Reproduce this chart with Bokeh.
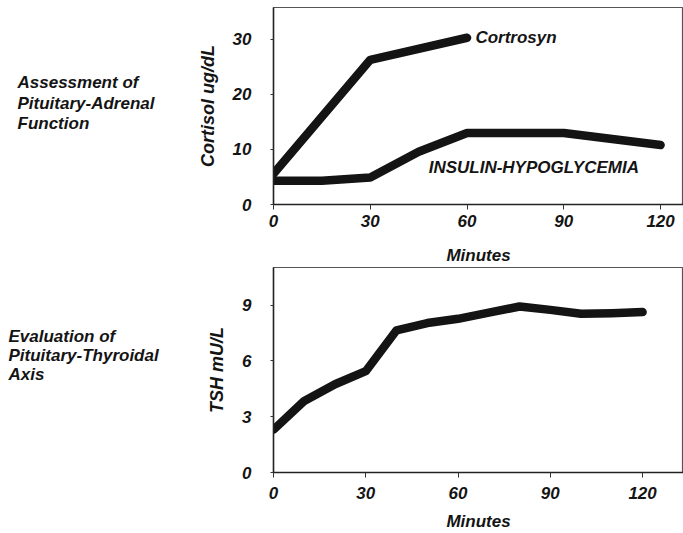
from bokeh.plotting import figure
from bokeh.layouts import column, row
from bokeh.models import Label, FixedTicker, Range1d
from bokeh.embed import file_html
from bokeh.resources import INLINE

# ---- data ----
cort_x = [0, 30, 60]
cort_y = [5.6, 26.3, 30.3]
ins_x = [0, 15, 30, 45, 60, 90, 120]
ins_y = [4.3, 4.3, 4.9, 9.6, 13.0, 13.0, 10.8]
tsh_x = [0, 10, 20, 30, 40, 50, 60, 70, 80, 90, 100, 110, 120]
tsh_y = [2.3, 3.85, 4.75, 5.45, 7.65, 8.04, 8.27, 8.6, 8.93, 8.75, 8.54, 8.57, 8.63]
x_ticks = [0, 30, 60, 90, 120]
top_y_ticks = [0, 10, 20, 30]
bot_y_ticks = [0, 3, 6, 9]
top_title = ["Assessment of", "Pituitary-Adrenal", "Function"]
bot_title = ["Evaluation of", "Pituitary-Thyroidal", "Axis"]

FONT = "Liberation Sans"
INK = "#141414"
LW = 190
H1 = 267
H2 = 266
TOP_Y = (0, 35.8)
BOT_Y = (0, 11.03)


def style(p, xticks, yticks, ylabel, s1, s2):
    p.xaxis.ticker = FixedTicker(ticks=xticks)
    p.yaxis.ticker = FixedTicker(ticks=yticks)
    for ax in (p.xaxis[0], p.yaxis[0]):
        ax.major_label_text_font = FONT
        ax.major_label_text_font_style = "bold italic"
        ax.major_label_text_font_size = "17px"
        ax.major_label_text_color = INK
        ax.axis_label_text_font = FONT
        ax.axis_label_text_font_style = "bold italic"
        ax.axis_label_text_font_size = "17px"
        ax.axis_label_text_color = INK
        ax.axis_line_color = "#222222"
        ax.axis_line_width = 1.5
        ax.major_tick_line_color = "#333333"
        ax.major_tick_in = 0
        ax.minor_tick_line_color = None
    p.yaxis.axis_label_text_font_size = "18px"
    p.xaxis.major_tick_out = 5
    p.yaxis.major_tick_out = 3
    p.xaxis.major_label_standoff = s1
    p.yaxis.major_label_standoff = 19
    p.xaxis.axis_label = "Minutes"
    p.yaxis.axis_label = ylabel
    p.xaxis.axis_label_standoff = s2
    p.yaxis.axis_label_standoff = 12
    p.xgrid.grid_line_color = None
    p.ygrid.grid_line_color = None
    p.outline_line_color = "#555555"
    p.outline_line_width = 1.2
    p.background_fill_color = "white"
    p.border_fill_color = "white"


def lab(p, x, y, text, base="alphabetic", size="17px"):
    p.add_layout(Label(x=x, y=y, text=text, text_font=FONT,
                       text_font_style="bold italic", text_font_size=size,
                       text_color=INK, text_baseline=base))


def side(h, yr, bt, bb, lines, x0, ys):
    s = figure(width=LW, height=h, output_backend="svg", toolbar_location=None,
               x_range=Range1d(0, LW), y_range=Range1d(*yr),
               x_axis_location=None, y_axis_location=None,
               min_border_left=0, min_border_right=0,
               min_border_top=bt, min_border_bottom=bb, outline_line_color=None)
    s.grid.visible = False
    s.text(x=[x0] * len(lines), y=ys, text=lines, text_font={"value": FONT},
           text_font_style="bold italic", text_font_size="17px",
           text_color=INK, text_baseline="alphabetic")
    return s


top = figure(width=683 - LW, height=H1, output_backend="svg", toolbar_location=None,
             x_range=Range1d(0, 127.1), y_range=Range1d(*TOP_Y),
             min_border_left=273 - LW, min_border_right=0, min_border_top=7,
             min_border_bottom=63)
style(top, x_ticks, top_y_ticks, "Cortisol ug/dL", 5, 16)
top.line(cort_x, cort_y, line_width=8.5, line_color=INK, line_cap="round", line_join="round")
top.line(ins_x, ins_y, line_width=8.5, line_color=INK, line_cap="round", line_join="round")
lab(top, 62.6, 30.4, "Cortrosyn", "middle")
lab(top, 48.1, 6.7, "INSULIN-HYPOGLYCEMIA", "middle")

bot = figure(width=683 - LW, height=H2, output_backend="svg", toolbar_location=None,
             x_range=Range1d(0, 133.3), y_range=Range1d(*BOT_Y),
             min_border_left=273 - LW, min_border_right=0, min_border_top=0,
             min_border_bottom=60)
style(bot, x_ticks, bot_y_ticks, "TSH mU/L", 9, 10)
bot.line(tsh_x, tsh_y, line_width=8.5, line_color=INK, line_cap="round", line_join="round")

s1 = side(H1, TOP_Y, 7, 63, top_title, 17, [22.2, 18.35, 14.7])
s2 = side(H2, BOT_Y, 0, 60, bot_title, 8, [7.34, 6.27, 5.25])

layout = column(row(s1, top, spacing=0), row(s2, bot, spacing=0), spacing=0)
open("out.html", "w").write(file_html(layout, INLINE))
